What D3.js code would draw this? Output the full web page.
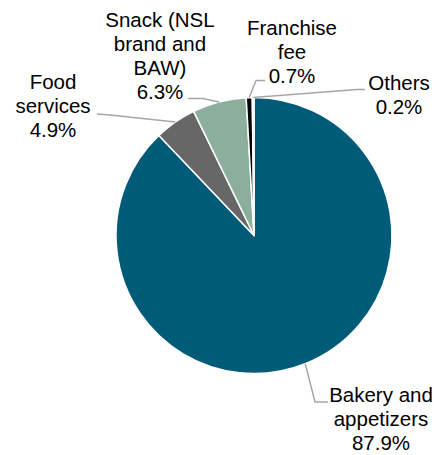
<!DOCTYPE html>
<html>
<head>
<meta charset="utf-8">
<script src="https://cdn.jsdelivr.net/npm/d3@7"></script>
<style>
  html, body { margin: 0; padding: 0; background: #fff; }
  svg text { font-family: Arial, "Liberation Sans", sans-serif; font-size: 20.5px; fill: #000; }
</style>
</head>
<body>
<svg id="chart" width="434" height="455"></svg>
<script>
// Revenue mix by segment (%)
const categories = ["Bakery and appetizers", "Food services", "Snack (NSL brand and BAW)", "Franchise fee", "Others"];
const values = [87.9, 4.9, 6.3, 0.7, 0.2];
const valueLabels = ["87.9%", "4.9%", "6.3%", "0.7%", "0.2%"];
const labelLines = [
  ["Bakery and", "appetizers"],
  ["Food", "services"],
  ["Snack (NSL", "brand and", "BAW)"],
  ["Franchise", "fee"],
  ["Others"]
];
const colors = ["#005b78", "#676767", "#8cae9d", "#000000", "#ffffff"];

// Layout
const cx = 254, cy = 235.5, radius = 138;
const lineGap = 24;
// label block: centre x, first baseline y, leader start (text side) and elbow
const labelLayout = [
  { x: 381, y: 402, start: [328, 402], elbow: [315, 402] },
  { x: 53, y: 89, start: [97, 114], elbow: [110, 115] },
  { x: 160, y: 27, start: [188, 98.5], elbow: [203, 98.5] },
  { x: 292, y: 35, start: [265, 80.5], elbow: [256, 80.5] },
  { x: 399, y: 90, start: [365, 89.5], elbow: [357, 89.5] }
];

const svg = d3.select("#chart");
const g = svg.append("g").attr("transform", `translate(${cx},${cy})`);

const pie = d3.pie().sort(null).value(d => d)(values);
const arc = d3.arc().innerRadius(0).outerRadius(radius);

g.selectAll("path.slice")
  .data(pie)
  .join("path")
  .attr("class", "slice")
  .attr("d", arc)
  .attr("fill", (d, i) => colors[i])
  .attr("stroke", "#fff")
  .attr("stroke-width", 1.5)
  .attr("stroke-linejoin", "round");

// leader lines from the middle of each slice's outer edge
pie.forEach((d, i) => {
  const a = (d.startAngle + d.endAngle) / 2;
  const px = cx + Math.sin(a) * radius;
  const py = cy - Math.cos(a) * radius;
  const L = labelLayout[i];
  svg.append("polyline")
    .attr("points", [L.start, L.elbow, [px, py]].map(p => p.join(",")).join(" "))
    .attr("fill", "none")
    .attr("stroke", "#a6a6a6")
    .attr("stroke-width", 1.5);
});

// labels
categories.forEach((c, i) => {
  const L = labelLayout[i];
  const lines = labelLines[i].concat([valueLabels[i]]);
  const t = svg.append("text").attr("text-anchor", "middle");
  lines.forEach((s, j) => {
    t.append("tspan").attr("x", L.x).attr("y", L.y + j * lineGap).text(s);
  });
});
</script>
</body>
</html>
